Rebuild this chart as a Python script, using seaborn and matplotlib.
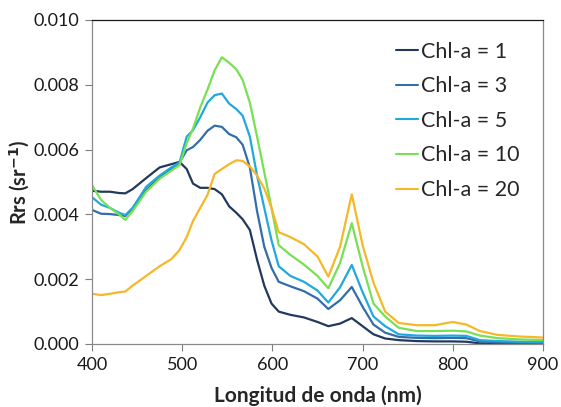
import numpy as np
import pandas as pd
import matplotlib
matplotlib.use("Agg")
import matplotlib.pyplot as plt
import seaborn as sns

# Wavelength grid (nm)
wavelength = [400, 410, 420, 430, 437, 445, 460, 475, 488, 497, 505, 512, 520, 528,
              536, 544, 552, 560, 567, 575, 583, 591, 599, 607, 620, 635, 650, 662,
              675, 688, 700, 712, 725, 740, 760, 780, 800, 815, 830, 850, 875, 900]

# Remote-sensing reflectance Rrs (sr^-1) for each chlorophyll-a concentration
rrs_chl1 = [.00473, .00470, .00470, .00466, .00465, .00478, .00512, .00545, .00555, .00562,
            .00540, .00495, .00482, .00482, .00478, .00462, .00425, .00405, .00385, .00352,
            .00260, .00180, .00125, .00100, .00090, .00082, .00068, .00055, .00063, .00080,
            .00055, .00030, .00017, .00012, .00009, .00008, .00008, .00007, .00002, .00001,
            .00000, .00000]
rrs_chl3 = [.00414, .00402, .00401, .00398, .00395, .00418, .00475, .00515, .00540, .00560,
            .00598, .00608, .00630, .00658, .00674, .00670, .00648, .00638, .00615, .00545,
            .00410, .00300, .00235, .00192, .00178, .00163, .00140, .00108, .00135, .00176,
            .00115, .00060, .00035, .00022, .00019, .00018, .00019, .00018, .00008, .00005,
            .00004, .00003]
rrs_chl5 = [.00453, .00430, .00420, .00405, .00398, .00420, .00485, .00520, .00545, .00560,
            .00640, .00660, .00700, .00745, .00768, .00773, .00742, .00725, .00705, .00640,
            .00520, .00420, .00320, .00240, .00210, .00192, .00165, .00128, .00175, .00244,
            .00160, .00085, .00055, .00030, .00026, .00025, .00026, .00025, .00012, .00009,
            .00007, .00006]
rrs_chl10 = [.00490, .00445, .00420, .00400, .00383, .00410, .00470, .00510, .00535, .00552,
             .00620, .00665, .00730, .00785, .00845, .00885, .00868, .00848, .00815, .00745,
             .00640, .00530, .00420, .00305, .00275, .00245, .00210, .00172, .00250, .00373,
             .00240, .00125, .00085, .00050, .00040, .00040, .00041, .00039, .00026, .00018,
             .00014, .00012]
rrs_chl20 = [.00155, .00151, .00155, .00160, .00162, .00180, .00210, .00240, .00262, .00290,
             .00330, .00380, .00420, .00460, .00525, .00540, .00555, .00567, .00565, .00548,
             .00520, .00480, .00420, .00345, .00330, .00308, .00270, .00208, .00300, .00462,
             .00305, .00190, .00100, .00065, .00058, .00058, .00068, .00060, .00040, .00028,
             .00023, .00020]

series_labels = ["Chl-a = 1", "Chl-a = 3", "Chl-a = 5", "Chl-a = 10", "Chl-a = 20"]
series_values = [rrs_chl1, rrs_chl3, rrs_chl5, rrs_chl10, rrs_chl20]
series_colors = ["#22395e", "#336ea8", "#22a8dc", "#78e055", "#f4b828"]

x_ticks = [400, 500, 600, 700, 800, 900]
y_ticks = [0.000, 0.002, 0.004, 0.006, 0.008, 0.010]

df = pd.concat(
    [pd.DataFrame({"wl": wavelength, "rrs": vals, "serie": lab})
     for lab, vals in zip(series_labels, series_values)],
    ignore_index=True,
)

sns.set_style("ticks")
plt.rcParams["font.family"] = ["Lato", "DejaVu Sans"]

fig = plt.figure(figsize=(5.61, 4.07), dpi=100)
ax = fig.add_axes([92 / 561, 1 - 344 / 407, (543 - 92) / 561, (344 - 20) / 407])

sns.lineplot(data=df, x="wl", y="rrs", hue="serie", hue_order=series_labels,
             palette=dict(zip(series_labels, series_colors)), estimator=None,
             sort=True, linewidth=1.6, ax=ax)

ax.set_xlim(400, 900)
ax.set_ylim(0, 0.010)
ax.set_xticks(x_ticks)
ax.set_yticks(y_ticks)
ax.set_yticklabels([f"{v:.3f}" for v in y_ticks])
ax.tick_params(axis="both", direction="out", length=5, width=0.8, color="#7f7f7f",
               labelsize=13, labelcolor="#1a1a1a", pad=4)

for side in ["left", "right", "bottom"]:
    ax.spines[side].set_visible(True)
    ax.spines[side].set_color("#8a8a8a")
    ax.spines[side].set_linewidth(0.9)
ax.spines["top"].set_visible(True)
ax.spines["top"].set_color("#1a1a1a")
ax.spines["top"].set_linewidth(0.9)

ax.set_xlabel("Longitud de onda (nm)", fontsize=15, fontweight="bold", labelpad=9)
ax.set_ylabel(r"Rrs (sr$^{\mathbf{-1}}$)", fontsize=14.5, fontweight="bold")
ax.yaxis.set_label_coords(-0.133, 0.5)

leg = ax.legend(loc="upper left", bbox_to_anchor=(0.655, 0.96), frameon=False,
                fontsize=15.5, handlelength=1.0, handletextpad=0.15, labelspacing=0.68,
                borderaxespad=0)
for line in leg.get_lines():
    line.set_linewidth(1.5)

fig.savefig("out.png", dpi=100)
